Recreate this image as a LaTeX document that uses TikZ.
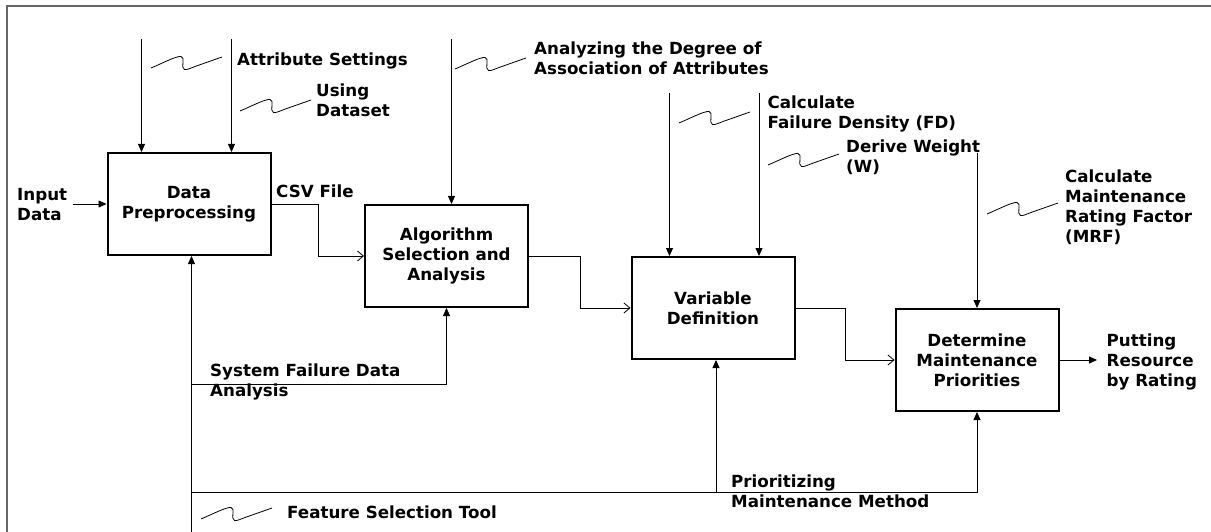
\documentclass[tikz,border=0pt]{standalone}
\usepackage{fontspec}
\setmainfont{DejaVu Sans}
\usetikzlibrary{arrows.meta}
\newcommand\lblfont{\bfseries\fontsize{16.7}{20}\selectfont}
\tikzset{
    squiggle/.pic={\draw[line width=0.8pt] (0,0) .. controls (12,-5) and (25,-12) .. (30,-11.5) .. controls (35,-11) and (29,0) .. (33.5,1.5) .. controls (35.5,2.2) and (40,0) .. (44,-1.5) -- (71,-11);}
}
\begin{document}
\begin{tikzpicture}[x=1pt, y=-1pt,
    proc/.style={rectangle, draw, line width=2pt, minimum width=163pt, minimum height=102pt, align=center, font=\lblfont},
    lbl/.style={anchor=west, align=left, inner sep=0pt, font=\lblfont},
    arrow/.style={-{Triangle[length=8pt,width=7pt]}, line width=0.8pt},
    flow/.style={-{Straight Barb[length=6pt,width=10pt]}, line width=0.8pt}
]
\useasboundingbox (0,0) rectangle (1211,532);
\draw[gray!80!black, line width=1.5pt] (7,532) -- (7,6) -- (1211,6);

% activities
\node[proc] (prep) at (189,204) {Data\\Preprocessing};
\node[proc] (algo) at (446.5,256) {Algorithm\\Selection and\\Analysis};
\node[proc] (vardef) at (713,308) {Variable\\Definition};
\node[proc] (prio) at (977,360) {Determine\\Maintenance\\Priorities};

% free ends
\coordinate (in) at (73,204);
\coordinate (out) at (1097,360);
\coordinate (c1) at (141.5,39);
\coordinate (c2) at (231.5,39);
\coordinate (c3) at (451.5,39);
\coordinate (c4) at (669.5,93);
\coordinate (c5) at (759,93);
\coordinate (c6) at (977,153);
\coordinate (fb) at (191.5,532);
\coordinate (sfd) at (191.5,384);
\coordinate (bus) at (191.5,492);
\coordinate (pm) at (716,492);

% labels
\node[lbl] (inlbl) at (17,204.5) {Input\\Data};
\node[lbl] (attr) at (237,61) {Attribute Settings};
\node[lbl] (using) at (316,100.5) {Using\\Dataset};
\node[lbl] (csv) at (276,191) {CSV File};
\node[lbl] (assoc) at (534,58) {Analyzing the Degree of\\Association of Attributes};
\node[lbl] (fd) at (767.5,114) {Calculate\\Failure Density (FD)};
\node[lbl] (wt) at (846,157.5) {Derive Weight\\(W)};
\node[lbl] (mrf) at (1065,207) {Calculate\\Maintenance\\Rating Factor\\(MRF)};
\node[lbl] (sfdlbl) at (210,382) {System Failure Data\\Analysis};
\node[lbl] (pmlbl) at (731,491) {Prioritizing\\Maintenance Method};
\node[lbl] (fst) at (287,512) {Feature Selection Tool};
\node[lbl] (res) at (1106.5,362) {Putting\\Resource\\by Rating};

% squiggles
\pic at (151,68) {squiggle};
\pic at (240,111) {squiggle};
\pic at (455,69) {squiggle};
\pic at (679,123) {squiggle};
\pic at (768,165) {squiggle};
\pic at (987,214) {squiggle};
\pic at (201,519) {squiggle};

% controls
\draw[arrow] (c1) -- (c1 |- prep.north);
\draw[arrow] (c2) -- (c2 |- prep.north);
\draw[arrow] (c3) -- (c3 |- algo.north);
\draw[arrow] (c4) -- (c4 |- vardef.north);
\draw[arrow] (c5) -- (c5 |- vardef.north);
\draw[arrow] (c6) -- (prio.north);

% main flow
\draw[arrow] (in) -- (prep.west);
\draw[flow] (prep.east) -- ++(46.5,0) |- (algo.west);
\draw[flow] (algo.east) -- ++(51.5,0) |- (vardef.west);
\draw[flow] (vardef.east) -- ++(50,0) |- (prio.west);
\draw[arrow] (prio.east) -- (out);

% mechanisms
\draw[arrow] (fb) -- (fb |- prep.south);
\draw[arrow] (sfd) -| (algo.south);
\draw[arrow] (bus) -| (prio.south);
\draw[arrow] (pm) -- (pm |- vardef.south);
\end{tikzpicture}
\end{document}
